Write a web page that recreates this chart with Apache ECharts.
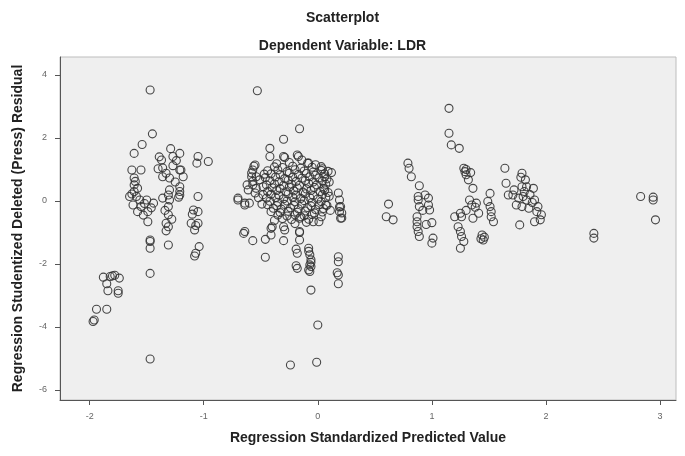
<!DOCTYPE html>
<html>
<head>
<meta charset="utf-8">
<script src="https://cdn.jsdelivr.net/npm/echarts@6/dist/echarts.min.js"></script>
<style>
  html, body { margin: 0; padding: 0; background: #ffffff; }
  #chart { width: 685px; height: 456px; }
</style>
</head>
<body>
<div id="chart"></div>
<script>
// Standardized predicted value (x) vs studentized deleted residual (y), grouped by cluster.
const lowTail = [
  [-1.88,-2.42],[-1.82,-2.40],[-1.80,-2.38],[-1.74,-2.45],[-1.78,-2.36],[-1.85,-2.63],
  [-1.84,-2.85],[-1.75,-2.85],[-1.75,-2.93],[-1.94,-3.44],[-1.85,-3.44],[-1.97,-3.83],[-1.96,-3.78]
];

const leftGroup = [
  [-1.47,3.52],[-1.45,2.13],[-1.54,1.79],[-1.61,1.51],[-1.29,1.66],[-1.21,1.51],[-1.39,1.40],
  [-1.37,1.30],[-1.05,1.41],[-0.96,1.25],[-1.06,1.20],[-1.27,1.41],[-1.21,0.98],[-1.63,0.98],
  [-1.55,0.98],[-1.36,1.05],[-1.36,0.77],[-1.30,0.73],[-1.20,0.98],[-1.18,0.77],[-1.61,0.73],
  [-1.61,0.51],[-1.61,0.30],[-1.21,0.45],[-1.59,0.14],[-1.65,0.14],[-1.56,0.03],[-1.50,0.03],
  [-1.44,-0.07],[-1.62,-0.13],[-1.55,-0.18],[-1.49,-0.34],[-1.58,-0.34],[-1.49,-0.66],
  [-1.36,0.09],[-1.31,0.19],[-1.30,0.03],[-1.31,-0.18],[-1.31,-0.44],[-1.33,-0.71],[-1.31,-0.82],
  [-1.30,0.35],[-1.21,0.30],[-1.21,0.19],[-1.05,0.14],[-1.09,-0.29],[-1.05,-0.34],[-1.11,-0.71],
  [-1.08,-0.92],[-1.05,-0.71],[-1.47,-1.24],[-1.47,-1.29],[-1.47,-1.50],[-1.31,-1.40],
  [-1.04,-1.45],[-1.07,-1.66],[-1.08,-1.75],[-1.47,-2.30],[-1.47,-5.02],
  [-1.60,0.62],[-1.58,0.40],[-1.63,0.22],[-1.52,-0.08],[-1.46,-0.22],[-1.53,-0.45],[-1.33,0.88],
  [-1.27,1.12],[-1.25,0.60],[-1.34,-0.30],[-1.28,-0.58],[-1.33,-0.95],[-1.10,-0.42],[-1.07,-0.78],
  [-1.22,0.12],[-1.40,1.02],[-1.24,1.28]
];

const midLeftColumn = [
  [-0.53,3.50],[-0.70,0.03],[-0.64,-0.13],[-0.60,-0.07],[-0.57,0.51],[-0.54,0.40],[-0.55,1.14],
  [-0.57,0.98],[-0.58,0.77],[-0.56,1.10],[-0.58,0.89],[-0.54,0.77],[-0.62,0.51],[-0.61,0.35],
  [-0.70,0.09],[-0.64,-0.07],[-0.65,-1.03],[-0.57,-1.26],[-0.64,-0.97],[-0.51,0.67],[-0.48,0.45],
  [-0.55,0.25],[-0.57,0.62],[-0.52,0.10]
];

const centerCore = [
  [-0.38,1.08],[-0.31,1.06],[-0.22,1.10],[-0.15,1.04],[-0.05,1.07],[0.04,1.02],
  [-0.44,0.96],[-0.35,0.98],[-0.27,0.93],[-0.20,0.99],[-0.12,0.95],[-0.04,0.92],[0.03,0.97],[0.09,0.94],
  [-0.41,0.86],[-0.33,0.83],[-0.25,0.88],[-0.17,0.84],[-0.10,0.87],[-0.02,0.82],[0.06,0.86],
  [-0.46,0.74],[-0.37,0.76],[-0.29,0.71],[-0.22,0.75],[-0.14,0.72],[-0.07,0.77],[0.01,0.73],[0.08,0.70],
  [-0.42,0.64],[-0.34,0.61],[-0.26,0.66],[-0.19,0.62],[-0.11,0.65],[-0.04,0.60],[0.04,0.63],
  [-0.45,0.51],[-0.38,0.54],[-0.30,0.49],[-0.23,0.53],[-0.16,0.50],[-0.08,0.55],[-0.01,0.51],[0.07,0.53],
  [-0.40,0.42],[-0.33,0.39],[-0.25,0.44],[-0.18,0.41],[-0.10,0.38],[-0.03,0.43],[0.05,0.40],
  [-0.44,0.30],[-0.36,0.33],[-0.28,0.29],[-0.21,0.32],[-0.13,0.28],[-0.06,0.33],[0.02,0.30],[0.09,0.27],
  [-0.41,0.21],[-0.34,0.18],[-0.26,0.22],[-0.19,0.19],[-0.11,0.23],[-0.04,0.17],[0.04,0.20],
  [-0.45,0.09],[-0.37,0.11],[-0.30,0.07],[-0.22,0.12],[-0.15,0.08],[-0.07,0.10],[0.00,0.06],[0.07,0.11],
  [-0.42,-0.01],[-0.35,-0.04],[-0.27,0.00],[-0.20,-0.03],[-0.12,0.01],[-0.05,-0.05],[0.03,-0.02],
  [-0.44,-0.12],[-0.36,-0.15],[-0.29,-0.11],[-0.21,-0.14],[-0.14,-0.10],[-0.06,-0.16],[0.01,-0.12],[0.08,-0.14],
  [-0.39,-0.23],[-0.32,-0.26],[-0.24,-0.22],[-0.17,-0.25],[-0.09,-0.21],[-0.02,-0.27],[0.05,-0.24],
  [-0.41,-0.34],[-0.33,-0.37],[-0.26,-0.33],[-0.18,-0.36],[-0.11,-0.32],[-0.03,-0.38],[0.04,-0.35],
  [-0.35,-0.45],[-0.27,-0.48],[-0.20,-0.44],[-0.12,-0.47],[-0.05,-0.43],
  [-0.31,-0.56],[-0.23,-0.59],[-0.16,-0.55],[-0.08,-0.58],
  [-0.48,0.20],[-0.49,-0.10],[-0.47,0.85],[0.10,0.15],[0.11,-0.30],[-0.36,1.18],[-0.25,1.22],
  [-0.02,1.15],[0.10,0.60],[-0.38,-0.62],[-0.10,-0.68],[-0.20,-0.72],[0.12,0.90]
];

const centerSpread = [
  [-0.16,2.29],[-0.30,1.96],[-0.42,1.67],[-0.42,1.41],[-0.29,1.38],[-0.17,1.41],[-0.14,1.30],
  [-0.08,1.20],[-0.18,1.46],[-0.30,1.41],[-0.09,1.20],[0.03,1.09],[0.06,0.77],[0.06,0.35],[0.07,-0.13],
  [0.18,0.25],[0.19,0.03],[0.19,-0.19],[0.21,-0.38],[0.21,-0.54],[0.20,-0.18],[0.19,-0.34],[0.20,-0.55],
  [-0.40,-0.82],[-0.30,-0.82],[-0.29,-0.92],[0.03,-0.50],[-0.04,-0.66],[0.01,-0.66],[-0.16,-0.97],
  [-0.15,-0.50],[-0.46,-1.22],[-0.41,-1.08],[-0.41,-0.87],[-0.30,-1.26],[-0.16,-1.00],[-0.16,-1.24],
  [-0.46,-1.79],[-0.19,-1.53],[-0.18,-1.66],[-0.19,-2.06],[-0.18,-2.14],[-0.08,-1.50],[-0.07,-1.71],
  [-0.06,-1.87],[-0.07,-2.03],[-0.06,-2.08],[-0.07,-2.24],[-0.08,-2.19],[-0.06,-2.83],[0.18,-1.77],
  [0.18,-1.93],[0.17,-2.28],[0.18,-2.35],[0.18,-2.63],[0.00,-3.94],[-0.24,-5.21],[-0.01,-5.12],
  [-0.08,-1.60],[-0.06,-1.95]
];

const rightGroupA = [
  [0.62,-0.10],[0.60,-0.50],[0.66,-0.60],[0.79,1.20],[0.80,1.04],[0.82,0.77],[0.89,0.48],[0.88,0.14],
  [0.88,0.03],[0.94,0.19],[0.97,0.09],[0.89,-0.18],[0.97,-0.13],[0.98,-0.29],[0.87,-0.50],[0.87,-0.66],
  [0.87,-0.82],[0.88,-0.97],[0.89,-1.13],[1.00,-0.69],[1.01,-1.18],[1.00,-1.34],[0.92,-0.30],[0.95,-0.75]
];

const rightGroupB = [
  [1.15,2.94],[1.15,2.15],[1.17,1.78],[1.24,1.67],[1.28,1.04],[1.29,0.93],[1.30,0.83],[1.32,0.67],
  [1.36,0.40],[1.33,0.03],[1.35,-0.13],[1.39,-0.07],[1.41,-0.39],[1.20,-0.50],[1.25,-0.39],[1.26,-0.50],
  [1.36,-0.55],[1.23,-0.82],[1.25,-0.97],[1.26,-1.13],[1.28,-1.29],[1.25,-1.50],[1.51,0.24],[1.49,-0.02],
  [1.51,-0.18],[1.52,-0.34],[1.52,-0.50],[1.54,-0.66],[1.44,-1.08],[1.45,-1.24],[1.46,-1.15],[1.43,-1.20],
  [1.30,1.00],[1.34,0.90],[1.30,-0.30],[1.38,-0.20]
];

const rightGroupC = [
  [1.64,1.04],[1.65,0.56],[1.67,0.19],[1.79,0.88],[1.82,0.67],[1.79,0.45],[1.83,0.45],[1.89,0.40],
  [1.71,0.19],[1.76,0.09],[1.80,0.14],[1.83,0.03],[1.74,-0.13],[1.79,-0.18],[1.85,-0.23],[1.90,0.03],
  [1.93,-0.18],[1.92,-0.34],[1.96,-0.44],[1.95,-0.60],[1.90,-0.66],[1.77,-0.76],[1.81,0.30],[1.86,0.20],
  [1.72,0.35],[1.88,-0.05],[1.78,0.75]
];

const farRight = [
  [2.42,-1.03],[2.42,-1.18],[2.83,0.14],[2.94,0.12],[2.94,0.03],[2.96,-0.60]
];

const xTicks = [-2, -1, 0, 1, 2, 3];
const yTicks = [-6, -4, -2, 0, 2, 4];

const titleText = 'Scatterplot';
const subtitleText = 'Dependent Variable: LDR';
const xName = 'Regression Standardized Predicted Value';
const yName = 'Regression Studentized Deleted (Press) Residual';

const points = [].concat(lowTail, leftGroup, midLeftColumn, centerCore, centerSpread,
                         rightGroupA, rightGroupB, rightGroupC, farRight);

const FONT = '"Liberation Sans", Arial, sans-serif';
const chart = echarts.init(document.getElementById('chart'), null, { renderer: 'canvas' });

chart.setOption({
  animation: false,
  backgroundColor: '#ffffff',
  title: [
    { text: titleText, left: 'center', top: 6,
      textStyle: { fontFamily: FONT, fontSize: 14, fontWeight: 'bold', color: '#222' } },
    { text: subtitleText, left: 'center', top: 34,
      textStyle: { fontFamily: FONT, fontSize: 14, fontWeight: 'bold', color: '#222' } }
  ],
  grid: {
    left: 60, right: 9, top: 57, bottom: 56,
    show: true, backgroundColor: '#efefef', borderColor: '#bdbdbd', borderWidth: 1
  },
  xAxis: {
    type: 'value', min: -2.26, max: 3.14,
    name: xName, nameLocation: 'middle', nameGap: 31,
    nameTextStyle: { fontFamily: FONT, fontSize: 14, fontWeight: 'bold', color: '#222' },
    axisLine: { show: true, onZero: false, lineStyle: { color: '#555', width: 1 } },
    axisTick: { show: true, length: 5, customValues: xTicks, lineStyle: { color: '#555' } },
    axisLabel: { customValues: xTicks, fontFamily: FONT, fontSize: 9, color: '#666', margin: 12 },
    splitLine: { show: false }
  },
  yAxis: {
    type: 'value', min: -6.32, max: 4.57,
    name: yName, nameLocation: 'middle', nameGap: 35, nameRotate: 90,
    nameTextStyle: { fontFamily: FONT, fontSize: 14, fontWeight: 'bold', color: '#222' },
    axisLine: { show: true, onZero: false, lineStyle: { color: '#555', width: 1 } },
    axisTick: { show: true, length: 5, customValues: yTicks, lineStyle: { color: '#555' } },
    axisLabel: { customValues: yTicks, fontFamily: FONT, fontSize: 9, color: '#666', margin: 13 },
    splitLine: { show: false }
  },
  series: [{
    type: 'scatter',
    data: points,
    symbol: 'circle',
    symbolSize: 8,
    itemStyle: { color: 'rgba(0,0,0,0)', borderColor: '#333', borderWidth: 1.1, opacity: 0.9 },
    emphasis: { disabled: true }
  }]
});
</script>
</body>
</html>
